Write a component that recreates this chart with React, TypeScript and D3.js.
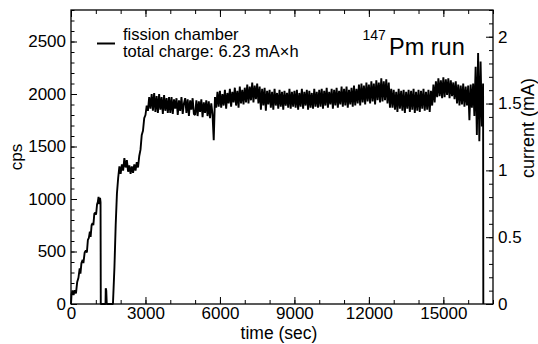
import React, { useEffect, useRef } from 'react';
import * as d3 from 'd3';

const W = 538;
const H = 344;

// axis ticks
const timeTicks = [0, 3000, 6000, 9000, 12000, 15000];
const cpsTicks = [0, 500, 1000, 1500, 2000, 2500];
const currentTicks = [0, 0.5, 1, 1.5, 2];

// start of run: [time (s), cps]
const rampPoints: [number, number][] = [
  [0, 0], [20, 90], [60, 130], [100, 85], [150, 130], [200, 100], [250, 210], [300, 250],
  [350, 340], [380, 290], [420, 390], [470, 420], [500, 390], [550, 490], [600, 510],
  [640, 490], [680, 610], [720, 630], [760, 690], [790, 640], [830, 750], [870, 770],
  [900, 750], [940, 860], [980, 870], [1010, 850], [1050, 950], [1080, 970], [1110, 1020],
  [1140, 950], [1170, 1010], [1190, 970], [1200, 0], [1390, 0], [1400, 150], [1420, 130],
  [1440, 0], [1690, 0], [1750, 350], [1800, 750], [1850, 1050], [1900, 1200], [1950, 1310],
  [2000, 1240], [2050, 1330], [2100, 1270], [2150, 1390], [2200, 1300], [2250, 1370],
  [2300, 1260], [2350, 1320], [2400, 1240], [2450, 1310], [2500, 1250], [2550, 1330],
  [2600, 1270], [2650, 1350], [2700, 1300], [2750, 1410], [2800, 1470], [2850, 1610],
  [2900, 1650], [2950, 1770],
];

// steady part, one value every 50 s from 3000 s
const plateauStart = 3000;
const plateauStep = 50;
const plateauCps = [
  1800, 1890, 1840, 1970, 1860, 2000, 1840, 2010, 1830, 1980, 1820, 2000, 1850, 1970, 1810, 1990, 1840, 1960, 1820, 1970,
  1820, 1970, 1810, 1950, 1860, 1960, 1800, 1940, 1840, 1970, 1810, 1910, 1960, 1820, 1950, 1790, 1940, 1850, 1960, 1810,
  1800, 1940, 1790, 1930, 1830, 1950, 1780, 1920, 1820, 1940, 1790, 1930, 1770, 1910, 1810, 1560, 1970, 1870, 2020, 1880,
  2030, 1870, 2000, 1890, 2040, 1860, 2010, 1910, 2050, 1880, 2020, 1920, 2060, 1890, 2030, 1870, 2070, 1910, 2040, 1900,
  2060, 1920, 2090, 1910, 2070, 1940, 2110, 1920, 2080, 1950, 2100, 1910, 2070, 1850, 2050, 1890, 2060, 1840, 2030, 1900,
  2040, 1870, 2020, 1850, 2050, 1890, 2010, 1860, 2040, 1880, 2020, 1850, 2030, 1890, 2010, 1870, 2050, 1860, 2020, 1880,
  2030, 1870, 2040, 1850, 2010, 1880, 2050, 1860, 2020, 1890, 2040, 1850, 2030, 1870, 2010, 1860, 2050, 1880, 2020, 1870,
  2040, 1880, 2050, 1860, 2030, 1890, 2060, 1870, 2020, 1900, 2050, 1860, 2040, 1890, 2060, 1870, 2030, 1900, 2070, 1880,
  2050, 1890, 2070, 1870, 2040, 1900, 2060, 1880, 2080, 1890, 2050, 1910, 2090, 1890, 2100, 1920, 2080, 1900, 2110, 1930,
  2090, 1910, 2120, 1930, 2100, 1900, 2130, 1940, 2110, 1920, 2150, 1930, 2120, 1940, 2140, 1910, 2110, 1870, 2050, 1870,
  2040, 1850, 2020, 1830, 2050, 1860, 2030, 1840, 2040, 1820, 2020, 1860, 2040, 1830, 2030, 1850, 2050, 1820, 2020, 1840,
  2040, 1830, 2030, 1860, 2050, 1840, 2020, 1850, 2040, 1830, 2030, 1890, 2090, 1920, 2120, 1970, 2150, 1980, 2130, 1960,
  2160, 1970, 2140, 1990, 2150, 1960, 2130, 1980, 2110, 1950, 2120, 1910, 2090, 1890, 2080, 1900, 2100, 1880, 2070, 1890,
  2080, 1750, 2090, 1870, 2100, 1790, 2260, 1610, 2390, 1550, 2310, 1690, 2100,
];
const endPoints: [number, number][] = [[16610, 0]];

export default function App() {
  const ref = useRef<SVGSVGElement>(null);

  useEffect(() => {
    const svg = d3.select(ref.current);
    svg.selectAll('*').remove();

    const left = 71, right = 493, top = 10, bottom = 304;
    const x = d3.scaleLinear().domain([0, 17000]).range([left, right]);
    const y = d3.scaleLinear().domain([0, 2800]).range([bottom, top]);
    const y2 = d3.scaleLinear().domain([0, 2.2]).range([bottom, top]);
    const font = "'Liberation Sans', Arial, Helvetica, sans-serif";

    const data: [number, number][] = [
      ...rampPoints,
      ...plateauCps.map((v, i) => [plateauStart + i * plateauStep, v] as [number, number]),
      ...endPoints,
    ];

    const clean = (g: any) => {
      g.select('.domain').remove();
      g.attr('font-family', font).attr('font-size', 17);
      g.selectAll('line').attr('stroke', '#000');
      g.selectAll('text').attr('fill', '#000');
    };

    // minor ticks
    svg.append('g').attr('transform', `translate(0,${bottom})`)
      .call(d3.axisBottom(x).tickValues(d3.range(0, 17001, 1000)).tickSize(-4).tickFormat(() => '')).call(clean);
    svg.append('g').attr('transform', `translate(0,${top})`)
      .call(d3.axisTop(x).tickValues(d3.range(0, 17001, 1000)).tickSize(-4).tickFormat(() => '')).call(clean);
    svg.append('g').attr('transform', `translate(${left},0)`)
      .call(d3.axisLeft(y).tickValues(d3.range(0, 2801, 100)).tickSize(-3.5).tickFormat(() => '')).call(clean);
    svg.append('g').attr('transform', `translate(${right},0)`)
      .call(d3.axisRight(y2).tickValues(d3.range(0, 23).map(i => i / 10)).tickSize(-4).tickFormat(() => '')).call(clean);

    // major ticks + labels
    svg.append('g').attr('transform', `translate(0,${bottom})`)
      .call(d3.axisBottom(x).tickValues(timeTicks).tickSize(-7).tickPadding(3).tickFormat(d3.format('d'))).call(clean);
    svg.append('g').attr('transform', `translate(0,${top})`)
      .call(d3.axisTop(x).tickValues(timeTicks).tickSize(-7).tickFormat(() => '')).call(clean);
    svg.append('g').attr('transform', `translate(${left},0)`)
      .call(d3.axisLeft(y).tickValues(cpsTicks).tickSize(-6).tickPadding(5).tickFormat(d3.format('d'))).call(clean);
    svg.append('g').attr('transform', `translate(${right},0)`)
      .call(d3.axisRight(y2).tickValues(currentTicks).tickSize(-7).tickPadding(5).tickFormat(d3.format('~g'))).call(clean);

    // data
    const line = d3.line<[number, number]>().x(d => x(d[0])).y(d => y(d[1]));
    svg.append('path').datum(data).attr('d', line)
      .attr('fill', 'none').attr('stroke', '#000').attr('stroke-width', 1.9)
      .attr('stroke-linejoin', 'bevel');

    // frame
    svg.append('rect').attr('x', left).attr('y', top)
      .attr('width', right - left).attr('height', bottom - top)
      .attr('fill', 'none').attr('stroke', '#000').attr('stroke-width', 1.3);

    // axis titles
    svg.append('text').attr('x', (left + right) / 2 - 3).attr('y', 339)
      .attr('text-anchor', 'middle').attr('font-family', font).attr('font-size', 17.5).text('time (sec)');
    svg.append('text').attr('transform', 'translate(22,157) rotate(-90)')
      .attr('text-anchor', 'middle').attr('font-family', font).attr('font-size', 17).text('cps');
    svg.append('text').attr('transform', 'translate(534,128) rotate(-90)')
      .attr('text-anchor', 'middle').attr('font-family', font).attr('font-size', 18).text('current (mA)');

    // legend
    svg.append('line').attr('x1', 97).attr('x2', 115).attr('y1', 43.5).attr('y2', 43.5)
      .attr('stroke', '#000').attr('stroke-width', 2);
    const leg = svg.append('text').attr('font-family', font).attr('font-size', 16.5);
    leg.append('tspan').attr('x', 123).attr('y', 40).text('fission chamber');
    leg.append('tspan').attr('x', 123).attr('y', 57).text('total charge: 6.23 mA×h');

    // run label
    const run = svg.append('text').attr('font-family', font);
    run.append('tspan').attr('x', 362.5).attr('y', 39.5).attr('font-size', 14).text('147');
    run.append('tspan').attr('x', 389).attr('y', 54.5).attr('font-size', 23.5).text('Pm run');
  }, []);

  return (
    <svg ref={ref} width={W} height={H}
      style={{ position: 'absolute', left: 0, top: 0, background: '#fff' }} />
  );
}
